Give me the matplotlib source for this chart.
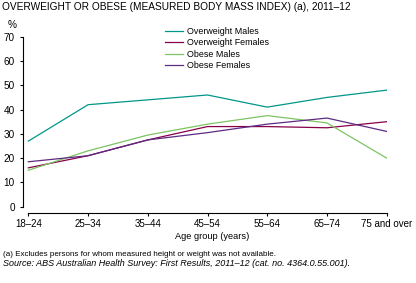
import matplotlib
matplotlib.use("Agg")
import matplotlib.pyplot as plt

plt.rcParams['font.family'] = ['Liberation Sans', 'DejaVu Sans']

# data
age_groups = ['18–24', '25–34', '35–44', '45–54', '55–64', '65–74', '75 and over']
overweight_males = [27, 42, 44, 46, 41, 45, 48]
overweight_females = [16, 21, 27.5, 33, 33, 32.5, 35]
obese_males = [15, 23, 29.5, 34, 37.5, 34.5, 20]
obese_females = [18.5, 21, 27.5, 30.5, 34, 36.5, 31]

series = [
    ('Overweight Males', overweight_males, '#00978A'),
    ('Overweight Females', overweight_females, '#86004A'),
    ('Obese Males', obese_males, '#7DC462'),
    ('Obese Females', obese_females, '#5E2A84'),
]

fig = plt.figure(figsize=(4.16, 2.83), dpi=100)
ax = fig.add_axes([0.056, 0.2696, 0.8736, 0.6007])

xs = list(range(len(age_groups)))
for name, vals, col in series:
    ax.plot(xs, vals, color=col, lw=0.9, label=name)

ax.set_xlim(-0.084, 6.0)
ax.set_ylim(0, 70)
ax.set_yticks(range(0, 71, 10))
ax.set_xticks(xs)
ax.set_xticklabels(age_groups)

for s in ['top', 'right']:
    ax.spines[s].set_visible(False)
ax.spines['left'].set_bounds(0, 70)
ax.spines['bottom'].set_bounds(0, 6)
ax.spines['bottom'].set_position(('outward', 4.3))
for s in ['left', 'bottom']:
    ax.spines[s].set_linewidth(0.8)

ax.tick_params(axis='y', direction='out', length=2.5, width=0.8, pad=3.5, labelsize=7.2)
ax.tick_params(axis='x', direction='out', length=2.2, width=0.8, pad=2.2, labelsize=7.0)

ax.legend(loc='upper left', bbox_to_anchor=(0.397, 0.905),
          bbox_transform=fig.transFigure, frameon=False, fontsize=6.4,
          borderpad=0, borderaxespad=0, handlelength=2.0, handletextpad=0.45,
          labelspacing=0.28)

fig.text(2 / 416, 1 - 7 / 283, 'OVERWEIGHT OR OBESE (MEASURED BODY MASS INDEX) (a), 2011–12',
         fontsize=7.3, ha='left', va='center')
fig.text(12.5 / 416, 1 - 25 / 283, '%', fontsize=7.3, ha='center', va='center')
fig.text(212 / 416, 1 - 236.5 / 283, 'Age group (years)', fontsize=6.7, ha='center', va='center')
fig.text(3 / 416, 1 - 254.3 / 283,
         '(a) Excludes persons for whom measured height or weight was not available.',
         fontsize=5.8, ha='left', va='center')
fig.text(3 / 416, 1 - 264 / 283,
         'Source: ABS Australian Health Survey: First Results, 2011–12 (cat. no. 4364.0.55.001).',
         fontsize=6.5, ha='left', va='center', style='italic')

fig.savefig('out.png', dpi=100)
